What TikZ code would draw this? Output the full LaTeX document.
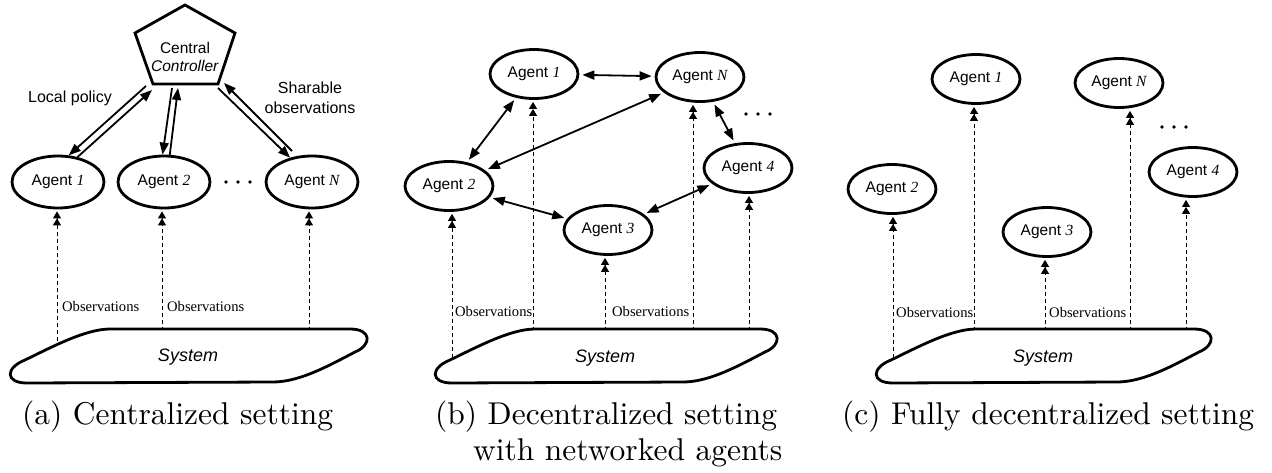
\documentclass[tikz,border=0pt]{standalone}
\usepackage{fontspec}
\newfontfamily\arialf{Liberation Sans}
\newfontfamily\tnrf{Liberation Serif}
\newfontfamily\capf{lmroman10-regular.otf}
\usetikzlibrary{arrows.meta,calc,shapes.geometric}
\tikzset{
  agent/.style={ellipse, draw, line width=2.8pt, fill=white, minimum width=88pt, minimum height=49pt, inner sep=0pt, font=\arialf\fontsize{15.5}{18}\selectfont},
  agentbig/.style={agent, minimum width=92pt, minimum height=52pt},
  ctrlarrow/.style={line width=1.8pt, -{Triangle[length=12pt,width=9pt]}},
  netarrow/.style={line width=1.8pt, {Triangle[length=12pt,width=9pt]}-{Triangle[length=12pt,width=9pt]}, shorten >=3pt, shorten <=3pt},
  obsline/.style={line width=1pt, dash pattern=on 4pt off 3pt, -{Triangle[length=7pt,width=8pt,sep=0pt]Triangle[length=7pt,width=8pt]}, shorten >=2pt},
  obslabel/.style={anchor=west, inner sep=0pt, font=\tnrf\fontsize{14.6}{16}\selectfont},
  sysline/.style={line width=2.8pt, fill=white, line join=round},
  systext/.style={font=\arialf\itshape\fontsize{18}{20}\selectfont, inner sep=0pt},
  sidelabel/.style={align=center, font=\arialf\fontsize{16}{20}\selectfont, inner sep=0pt},
  caption/.style={anchor=base west, inner sep=0pt, font=\capf\fontsize{31.5}{36}\selectfont},
  dotmark/.style={fill=black},
}
\newcommand\agt[1]{Agent {\tnrf\itshape #1}}
\newcommand\sysblob[2]{%
  \draw[sysline] ({#1+98},329) -- ({#2-17},329) .. controls ({#2+5},329) and ({#2+5},345) .. ({#2-12},352)
    .. controls ({#2-37},365) and ({#2-67},382) .. ({#2-94},382) -- ({#1+15},383)
    .. controls ({#1-7},383) and ({#1-7},368) .. ({#1+13},360)
    .. controls ({#1+38},348) and ({#1+73},329) .. ({#1+98},329) -- cycle;}
\begin{document}
\begin{tikzpicture}[x=1pt,y=-1pt]
\useasboundingbox (0,0) rectangle (1272,472);

% ================= (a) =================
\draw[line width=2.8pt, line join=miter] (185,5) -- (235,33) -- (218,84) -- (153,84) -- (135,33) -- cycle;
\node[sidelabel, font=\arialf\fontsize{15.5}{18}\selectfont] (ctrl) at (185,57) {Central\\\textit{Controller}};
\node[agentbig] (a1) at (58,182) {\agt{1}};
\node[agentbig] (a2) at (164,182) {\agt{2}};
\node[agentbig] (aN) at (312,182) {\agt{N}};
\foreach \x in {226,238,250} \fill[dotmark] (\x,182) circle (1.8);

\coordinate (c1s) at (146,86);
\coordinate (c1e) at (152,90);
\coordinate (c2s) at (172,88);
\coordinate (c2e) at (178,88);
\coordinate (cNs) at (218,88);
\coordinate (cNe) at (224,83);
\draw[ctrlarrow] (c1s) -- (a1.68);
\draw[ctrlarrow] (a1.52) -- (c1e);
\draw[ctrlarrow] (c2s) -- (a2.93);
\draw[ctrlarrow] (a2.78) -- (c2e);
\draw[ctrlarrow] (cNs) -- (aN.132);
\draw[ctrlarrow, shorten <=7pt] (aN.120) -- (cNe);

\node[sidelabel] (lp) at (70,98) {Local policy};
\node[sidelabel, align=center] (so) at (310,98) {Sharable\\observations};

\coordinate (oa1) at (57,355);
\coordinate (oa2) at (162,345);
\coordinate (oaN) at (309,345);
\draw[obsline] (oa1) -- (oa1 |- a1.south);
\draw[obsline] (oa2) -- (oa2 |- a2.south);
\draw[obsline] (oaN) -- (oaN |- aN.south);
\node[obslabel] (la1) at (62,306) {Observations};
\node[obslabel] (la2) at (167,306) {Observations};
\sysblob{12}{367}
\node[systext] (sysA) at (188,357) {System};
\node[caption] (capA) at (22,424) {(a) Centralized setting};

% ================= (b) =================
\node[agent] (b1) at (534,74) {\agt{1}};
\node[agent] (bN) at (700,77) {\agt{N}};
\node[agent] (b2) at (449,186) {\agt{2}};
\node[agent] (b4) at (748,168) {\agt{4}};
\node[agent] (b3) at (608,230) {\agt{3}};
\foreach \x in {746,758,770} \fill[dotmark] (\x,114) circle (1.8);

\draw[netarrow] (b1) -- (bN);
\draw[netarrow] (b1) -- (b2);
\draw[netarrow] (bN) -- (b2);
\draw[netarrow] (bN) -- (b4);
\draw[netarrow] (b2) -- (b3);
\draw[netarrow] (b3) -- (b4);

\coordinate (ob2) at (452,365);
\coordinate (ob1) at (533,345);
\coordinate (ob3) at (605,345);
\coordinate (obN) at (693,345);
\coordinate (ob4) at (749,345);
\draw[obsline] (ob2) -- (ob2 |- b2.south);
\draw[obsline] (ob1) -- (ob1 |- b1.south);
\draw[obsline] (ob3) -- (ob3 |- b3.south);
\draw[obsline] (obN) -- (obN |- bN.south);
\draw[obsline] (ob4) -- (ob4 |- b4.south);
\node[obslabel] (lb1) at (455,311) {Observations};
\node[obslabel] (lb2) at (612,311) {Observations};
\sysblob{437}{777}
\node[systext] (sysB) at (605,358) {System};
\node[caption] (capB1) at (435,424) {(b) Decentralized setting};
\node[caption] (capB2) at (473,460) {with networked agents};

% ================= (c) =================
\node[agent] (d1) at (976,79) {\agt{1}};
\node[agent] (dN) at (1119,83) {\agt{N}};
\node[agent] (d2) at (892,189) {\agt{2}};
\node[agent] (d4) at (1193,172) {\agt{4}};
\node[agent] (d3) at (1047,232) {\agt{3}};
\foreach \x in {1162,1174,1186} \fill[dotmark] (\x,127) circle (1.8);

\coordinate (od2) at (893,365);
\coordinate (od1) at (974,345);
\coordinate (od3) at (1045,345);
\coordinate (odN) at (1130,345);
\coordinate (od4) at (1186,345);
\draw[obsline] (od2) -- (od2 |- d2.south);
\draw[obsline] (od1) -- (od1 |- d1.south);
\draw[obsline] (od3) -- (od3 |- d3.south);
\draw[obsline] (odN) -- (odN |- dN.south);
\draw[obsline] (od4) -- (od4 |- d4.south);
\node[obslabel] (ld1) at (896,312) {Observations};
\node[obslabel] (ld2) at (1049,312) {Observations};
\sysblob{878}{1211}
\node[systext] (sysC) at (1043,358) {System};
\node[caption] (capC) at (842,424) {(c) Fully decentralized setting};
\end{tikzpicture}
\end{document}
